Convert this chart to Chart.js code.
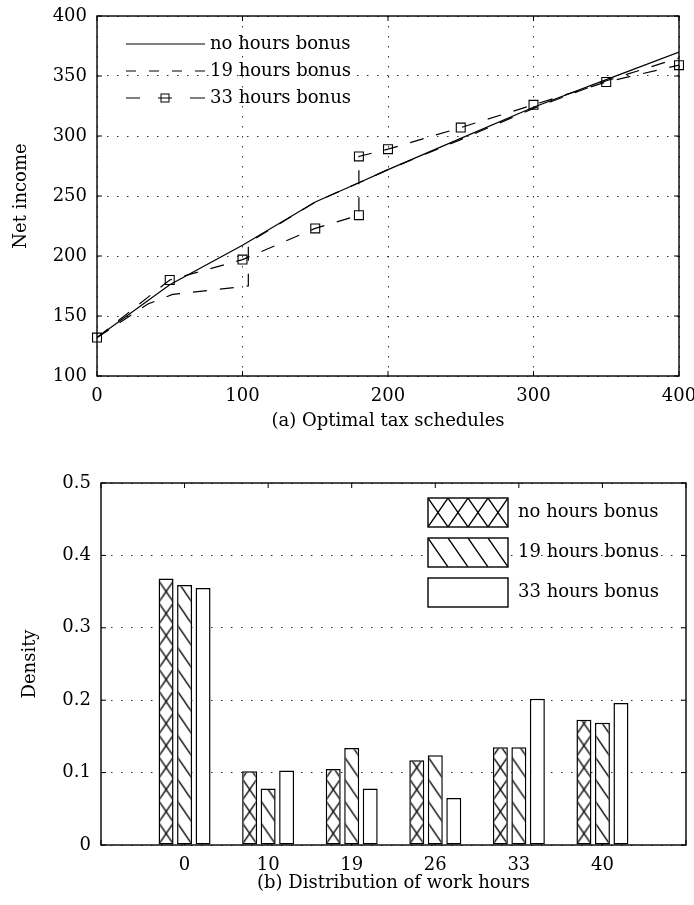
<!DOCTYPE html>
<html>
<head>
<meta charset="utf-8">
<script src="https://cdn.jsdelivr.net/npm/chart.js@4.4.0/dist/chart.umd.min.js"></script>
<style>
  html, body { margin: 0; padding: 0; background: #fff; }
  #wrap { position: relative; width: 694px; height: 905px; }
  canvas { position: absolute; left: 0; }
  #top { top: 0; }
  #bottom { top: 440px; }
</style>
</head>
<body>
<div id="wrap">
  <canvas id="top" width="694" height="440"></canvas>
  <canvas id="bottom" width="694" height="465"></canvas>
</div>
<script>
const seriesNames = ["no hours bonus", "19 hours bonus", "33 hours bonus"];

// (a) optimal tax schedules
const noBonusX = [0, 50, 100, 150, 180, 200, 250, 300, 350, 400];
const noBonusY = [132, 176, 209, 245, 261, 272, 298, 324, 347, 370];
const bonus19X = [0, 35, 52, 104, 104, 150, 180, 200, 250, 300, 350, 400];
const bonus19Y = [132, 160, 168, 175, 211, 245, 261, 272, 297, 323, 346, 365];
const bonus33X = [0, 50, 100, 150, 180, 180, 200, 250, 300, 350, 400];
const bonus33Y = [132, 180, 197, 223, 234, 283, 289, 307, 326, 345, 359];

// (b) distribution of work hours
const hours = ["0", "10", "19", "26", "33", "40"];
const densNoBonus = [0.368, 0.102, 0.105, 0.117, 0.135, 0.173];
const dens19 = [0.359, 0.078, 0.134, 0.124, 0.135, 0.169];
const dens33 = [0.355, 0.103, 0.078, 0.065, 0.202, 0.196];

Chart.defaults.font.family = '"DejaVu Serif", serif';
Chart.defaults.font.size = 18;
Chart.defaults.color = '#000';
Chart.defaults.animation = false;
Chart.defaults.plugins.legend.display = false;
Chart.defaults.plugins.tooltip.enabled = false;

const FONT = '18px "DejaVu Serif", serif';
const toXY = (xs, ys) => xs.map((x, i) => ({ x: x, y: ys[i] }));

// fixed axis sizes so the plot boxes land where the original has them
const fitX = h => scale => { scale.height = h; scale.paddingLeft = 0; scale.paddingRight = 0; };
const fitY = w => scale => { scale.width = w; scale.paddingTop = 0; scale.paddingBottom = 0; };

// inward tick marks on all four sides + box frame
const frame = {
  id: 'frame',
  beforeDatasetsDraw(chart) {
    const { ctx, chartArea: a } = chart;
    const sx = chart.scales.x, sy = chart.scales.y;
    ctx.save();
    ctx.strokeStyle = '#000';
    ctx.lineWidth = 1;
    ctx.beginPath();
    sx.ticks.forEach((t, i) => {
      const px = sx.getPixelForTick(i);
      ctx.moveTo(px, a.bottom); ctx.lineTo(px, a.bottom - 5);
      ctx.moveTo(px, a.top); ctx.lineTo(px, a.top + 5);
    });
    sy.ticks.forEach((t, i) => {
      const py = sy.getPixelForTick(i);
      ctx.moveTo(a.left, py); ctx.lineTo(a.left + 5, py);
      ctx.moveTo(a.right, py); ctx.lineTo(a.right - 5, py);
    });
    ctx.stroke();
    ctx.restore();
  },
  afterDatasetsDraw(chart) {
    const { ctx, chartArea: a } = chart;
    ctx.save();
    ctx.strokeStyle = '#000';
    ctx.lineWidth = 1.4;
    ctx.strokeRect(a.left, a.top, a.right - a.left, a.bottom - a.top);
    ctx.restore();
  }
};

// ---------- top chart ----------
const topLegend = {
  id: 'topLegend',
  afterDraw(chart) {
    const ctx = chart.ctx;
    const rows = [44, 71, 98];
    ctx.save();
    ctx.strokeStyle = '#000';
    ctx.lineWidth = 1.2;
    // solid
    ctx.beginPath(); ctx.moveTo(126, rows[0]); ctx.lineTo(205, rows[0]); ctx.stroke();
    // dashed
    ctx.setLineDash([10, 13]);
    ctx.beginPath(); ctx.moveTo(126, rows[1]); ctx.lineTo(205, rows[1]); ctx.stroke();
    ctx.setLineDash([]);
    // dashed with square
    ctx.beginPath();
    ctx.moveTo(126, rows[2]); ctx.lineTo(140, rows[2]);
    ctx.moveTo(158, rows[2]); ctx.lineTo(172, rows[2]);
    ctx.moveTo(190, rows[2]); ctx.lineTo(205, rows[2]);
    ctx.stroke();
    ctx.lineWidth = 1;
    ctx.strokeRect(161, rows[2] - 4, 8, 8);
    ctx.font = FONT;
    ctx.fillStyle = '#000';
    ctx.textBaseline = 'middle';
    seriesNames.forEach((s, i) => ctx.fillText(s, 210, rows[i]));
    ctx.restore();
  }
};

new Chart(document.getElementById('top'), {
  type: 'line',
  data: {
    datasets: [
      { label: seriesNames[0], data: toXY(noBonusX, noBonusY), borderColor: '#000', borderWidth: 1.2, pointRadius: 0 },
      { label: seriesNames[1], data: toXY(bonus19X, bonus19Y), borderColor: '#000', borderWidth: 1.2, borderDash: [14, 13], pointRadius: 0 },
      { label: seriesNames[2], data: toXY(bonus33X, bonus33Y), borderColor: '#000', borderWidth: 1.2, borderDash: [14, 13],
        pointStyle: 'rect', pointRadius: 6.3, pointBorderColor: '#000', pointBackgroundColor: 'rgba(0,0,0,0)', pointBorderWidth: 1.1, clip: false }
    ]
  },
  options: {
    responsive: false,
    layout: { padding: { top: 16, right: 15, left: 0, bottom: 0 } },
    elements: { line: { tension: 0 } },
    scales: {
      x: {
        type: 'linear', min: 0, max: 400,
        ticks: { stepSize: 100, padding: 10, maxRotation: 0 },
        grid: { color: '#333', lineWidth: 1, drawTicks: false },
        border: { display: false, dash: [1.5, 8.5] },
        title: { display: true, text: '(a) Optimal tax schedules', padding: { top: 0, bottom: 8 } },
        afterFit: fitX(64)
      },
      y: {
        min: 100, max: 400,
        ticks: { stepSize: 50, padding: 10 },
        grid: { color: '#333', lineWidth: 1, drawTicks: false },
        border: { display: false, dash: [1.5, 8.5] },
        title: { display: true, text: 'Net income', padding: { top: 11, bottom: 0 } },
        afterFit: fitY(97)
      }
    }
  },
  plugins: [frame, topLegend]
});

// ---------- bottom chart ----------
function makeHatch(cross, w, h) {
  const tile = document.createElement('canvas');
  tile.width = w; tile.height = h;
  const g = tile.getContext('2d');
  g.fillStyle = '#fff';
  g.fillRect(0, 0, w, h);
  g.strokeStyle = '#000';
  g.lineWidth = 1.3;
  g.beginPath();
  for (let k = -1; k <= 1; k++) {
    g.moveTo(k * w, 0); g.lineTo(k * w + w, h);
    if (cross) { g.moveTo(k * w + w, 0); g.lineTo(k * w, h); }
  }
  g.stroke();
  return g.createPattern(tile, 'repeat');
}

const labelsB = [''].concat(hours, ['']);
const pad = arr => [null].concat(arr, [null]);
const patNo = labelsB.map(() => makeHatch(true, 15, 22));
const pat19 = labelsB.map(() => makeHatch(false, 15, 22));
const legNo = makeHatch(true, 20, 29);
const leg19 = makeHatch(false, 20, 29);

// anchor each bar's hatch at its own lower-left corner
const alignHatch = {
  id: 'alignHatch',
  beforeDatasetsDraw(chart) {
    [patNo, pat19].forEach((pats, d) => {
      chart.getDatasetMeta(d).data.forEach((el, i) => {
        if (el.width == null || isNaN(el.x)) return;
        pats[i].setTransform(new DOMMatrix().translate(el.x - el.width / 2, el.base));
      });
    });
  }
};

const bottomLegend = {
  id: 'bottomLegend',
  afterDraw(chart) {
    const ctx = chart.ctx;
    const boxes = [58, 98, 138];
    const fills = [legNo, leg19, '#fff'];
    ctx.save();
    ctx.strokeStyle = '#000';
    ctx.lineWidth = 1.4;
    boxes.forEach((y, i) => {
      if (typeof fills[i] !== 'string') fills[i].setTransform(new DOMMatrix().translate(428, y));
      ctx.fillStyle = fills[i];
      ctx.fillRect(428, y, 80, 29);
      ctx.strokeRect(428, y, 80, 29);
    });
    ctx.font = FONT;
    ctx.fillStyle = '#000';
    ctx.textBaseline = 'middle';
    seriesNames.forEach((s, i) => ctx.fillText(s, 518, boxes[i] + 14.5));
    ctx.restore();
  }
};

new Chart(document.getElementById('bottom'), {
  type: 'bar',
  data: {
    labels: labelsB,
    datasets: [
      { label: seriesNames[0], data: pad(densNoBonus), backgroundColor: c => patNo[c.dataIndex] },
      { label: seriesNames[1], data: pad(dens19), backgroundColor: c => pat19[c.dataIndex] },
      { label: seriesNames[2], data: pad(dens33), backgroundColor: '#fff' }
    ]
  },
  options: {
    responsive: false,
    layout: { padding: { top: 43, right: 8, left: 0, bottom: 0 } },
    datasets: { bar: { borderColor: '#000', borderWidth: 1.5, borderSkipped: false, categoryPercentage: 0.664, barPercentage: 0.81 } },
    scales: {
      x: {
        offset: false,
        ticks: { padding: 10, autoSkip: false, maxRotation: 0 },
        grid: { display: false, drawTicks: false },
        border: { display: false },
        title: { display: true, text: '(b) Distribution of work hours', padding: { top: 0, bottom: 11 } },
        afterFit: fitX(60)
      },
      y: {
        min: 0, max: 0.5,
        ticks: { stepSize: 0.1, padding: 10 },
        grid: { color: '#333', lineWidth: 1, drawTicks: false },
        border: { display: false, dash: [1.5, 8.5] },
        title: { display: true, text: 'Density', padding: { top: 20, bottom: 0 } },
        afterFit: fitY(101)
      }
    }
  },
  plugins: [alignHatch, frame, bottomLegend]
});
</script>
</body>
</html>
